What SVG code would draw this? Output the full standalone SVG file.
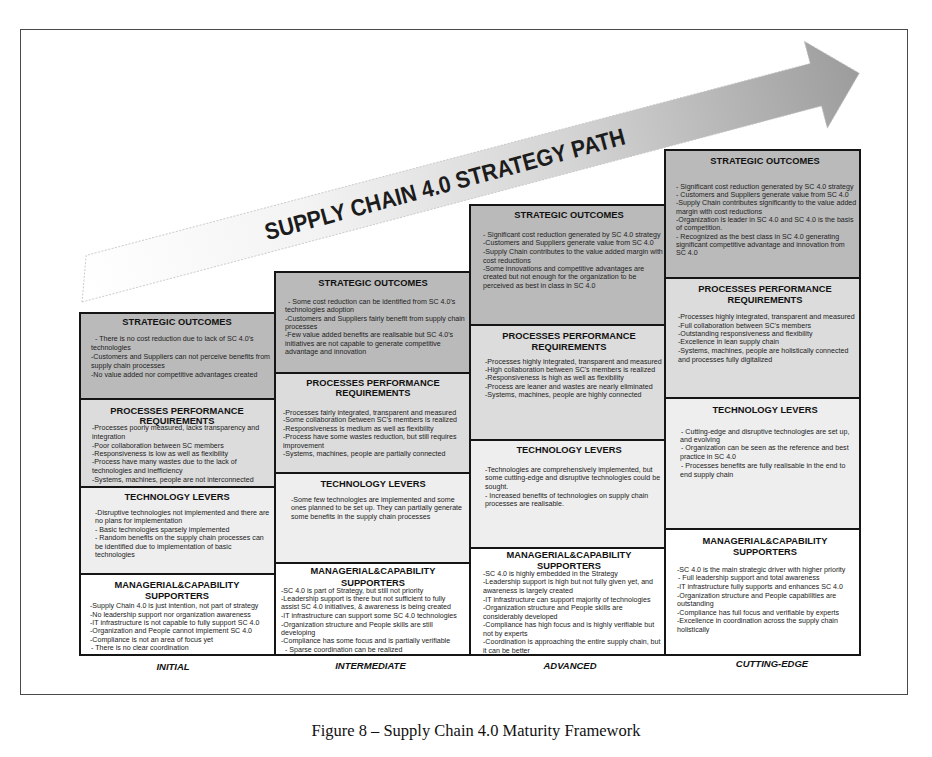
<svg xmlns="http://www.w3.org/2000/svg" width="932" height="757" viewBox="0 0 932 757">
  <style>
    .frame { fill: #ffffff; stroke: #4a4a4a; stroke-width: 1; }
    .box { stroke: #151515; stroke-width: 2; }
    .so { fill: #bababa; }
    .pp { fill: #dcdcdc; }
    .tl { fill: #eeeeee; }
    .mc { fill: #ffffff; }
    .h { font-family: "Liberation Sans", Arial, sans-serif; font-weight: bold; font-size: 9.3px; text-anchor: middle; fill: #111111; }
    .b { font-family: "Liberation Sans", Arial, sans-serif; font-size: 7.1px; fill: #222222; }
    .lvl { font-family: "Liberation Sans", Arial, sans-serif; font-weight: bold; font-style: italic; font-size: 9.5px; text-anchor: middle; fill: #111111; }
    .cap { font-family: "Liberation Serif", "Times New Roman", serif; font-size: 16.5px; text-anchor: middle; fill: #111111; }
    .arrow-title { font-family: "Liberation Sans", Arial, sans-serif; font-weight: bold; font-size: 23.5px; text-anchor: middle; fill: #1c1c1c; }
  </style>
  <defs>
    <linearGradient id="arrowFill" gradientUnits="userSpaceOnUse" x1="0" y1="0" x2="810" y2="0">
      <stop offset="0" stop-color="#ffffff"/>
      <stop offset="0.3" stop-color="#f3f3f3"/>
      <stop offset="0.65" stop-color="#d2d2d2"/>
      <stop offset="1" stop-color="#9c9c9c"/>
    </linearGradient>
  </defs>

  <rect width="932" height="757" fill="#ffffff"/>
  <rect class="frame" x="20.5" y="29.5" width="887" height="665"/>

  <!-- strategy path arrow -->
  <g id="connectors">
    <g id="strategy-path" transform="translate(82,302) rotate(-14.85)">
      <path d="M0,0 L765,0 L765,23 L810,-22 L765,-67 L765,-44 L16,-44 Z" fill="url(#arrowFill)" stroke="#c4c4c4" stroke-width="0.8" stroke-dasharray="2 1.5"/>
    </g>
    <text class="arrow-title" transform="translate(447,192) rotate(-15)" textLength="372" lengthAdjust="spacingAndGlyphs">SUPPLY CHAIN 4.0 STRATEGY  PATH</text>
  </g>

  <!-- INITIAL -->
  <g id="initial-strategic">
    <rect class="box so" x="80" y="313" width="195" height="86"/>
    <text class="h" x="177" y="325">STRATEGIC  OUTCOMES</text>
    <text class="b" x="95" y="341">- There is no cost reduction due to lack of SC 4.0's</text>
    <text class="b" x="91" y="350">technologies</text>
    <text class="b" x="91" y="359">-Customers and Suppliers can not perceive benefits from</text>
    <text class="b" x="91" y="367.5">supply chain processes</text>
    <text class="b" x="91" y="376.5">-No value added nor competitive advantages created</text>
  </g>
  <g id="initial-processes">
    <rect class="box pp" x="80" y="399" width="195" height="88"/>
    <text class="h" x="177" y="413.5">PROCESSES PERFORMANCE</text>
    <text class="h" x="177" y="423.5">REQUIREMENTS</text>
    <text class="b" x="92" y="430">-Processes poorly measured, lacks transparency and</text>
    <text class="b" x="92" y="439">integration</text>
    <text class="b" x="92" y="447.5">-Poor collaboration between SC members</text>
    <text class="b" x="92" y="456">-Responsiveness is low as well as flexibility</text>
    <text class="b" x="92" y="464">-Process have many wastes due to the lack of</text>
    <text class="b" x="92" y="472.5">technologies and inefficiency</text>
    <text class="b" x="92" y="481.5">-Systems, machines, people are not interconnected</text>
  </g>
  <g id="initial-technology">
    <rect class="box tl" x="80" y="487" width="195" height="87"/>
    <text class="h" x="177" y="500">TECHNOLOGY LEVERS</text>
    <text class="b" x="95" y="515">-Disruptive technologies not implemented and there are</text>
    <text class="b" x="95" y="523">no plans for implementation</text>
    <text class="b" x="95" y="531.5">- Basic technologies sparsely implemented</text>
    <text class="b" x="95" y="540">- Random benefits on the supply chain processes can</text>
    <text class="b" x="95" y="548.5">be identified due to implementation of basic</text>
    <text class="b" x="95" y="557">technologies</text>
  </g>
  <g id="initial-managerial">
    <rect class="box mc" x="80" y="574" width="195" height="81"/>
    <text class="h" x="177" y="587.5">MANAGERIAL&amp;CAPABILITY</text>
    <text class="h" x="177" y="599">SUPPORTERS</text>
    <text class="b" x="90" y="608">-Supply Chain 4.0 is just intention, not part of strategy</text>
    <text class="b" x="90" y="616.5">-No leadership support nor organization awareness</text>
    <text class="b" x="90" y="625">-IT infrastructure is not capable to fully support SC 4.0</text>
    <text class="b" x="90" y="633">-Organization and People cannot implement SC 4.0</text>
    <text class="b" x="90" y="641.5">-Compliance is not an area of focus yet</text>
    <text class="b" x="91" y="650">- There is no clear coordination</text>
  </g>
  <text class="lvl" x="173" y="670">INITIAL</text>

  <!-- INTERMEDIATE -->
  <g id="intermediate-strategic">
    <rect class="box so" x="275" y="272" width="195" height="101"/>
    <text class="h" x="373" y="285.5">STRATEGIC  OUTCOMES</text>
    <text class="b" x="288" y="304">- Some cost reduction can be identified from SC 4.0's</text>
    <text class="b" x="285" y="312">technologies adoption</text>
    <text class="b" x="285" y="320.5">-Customers and Suppliers fairly benefit from supply chain</text>
    <text class="b" x="285" y="329">processes</text>
    <text class="b" x="285" y="337">-Few value  added benefits are realisable but SC 4.0's</text>
    <text class="b" x="285" y="345.5">initiatives are not capable to generate competitive</text>
    <text class="b" x="285" y="354">advantage and innovation</text>
  </g>
  <g id="intermediate-processes">
    <rect class="box pp" x="275" y="373" width="195" height="100"/>
    <text class="h" x="373" y="385.7">PROCESSES PERFORMANCE</text>
    <text class="h" x="373" y="396.4">REQUIREMENTS</text>
    <text class="b" x="283" y="414.5">-Processes fairly integrated, transparent and measured</text>
    <text class="b" x="283" y="422">-Some collaboration between SC's members is realized</text>
    <text class="b" x="283" y="430.5">-Responsiveness is medium as well as flexibility</text>
    <text class="b" x="283" y="439">-Process have some wastes reduction, but still requires</text>
    <text class="b" x="283" y="448">improvement</text>
    <text class="b" x="283" y="456">-Systems, machines, people are partially connected</text>
  </g>
  <g id="intermediate-technology">
    <rect class="box tl" x="275" y="473" width="195" height="90"/>
    <text class="h" x="373" y="486.7">TECHNOLOGY LEVERS</text>
    <text class="b" x="291" y="502">-Some few technologies are implemented and some</text>
    <text class="b" x="291" y="510">ones planned to be set up. They can partially generate</text>
    <text class="b" x="291" y="519">some benefits in the supply chain processes</text>
  </g>
  <g id="intermediate-managerial">
    <rect class="box mc" x="275" y="563" width="195" height="92"/>
    <text class="h" x="373" y="574.4">MANAGERIAL&amp;CAPABILITY</text>
    <text class="h" x="373" y="585.7">SUPPORTERS</text>
    <text class="b" x="281" y="593">-SC 4.0 is part of Strategy, but still not priority</text>
    <text class="b" x="281" y="601">-Leadership support  is there but not sufficient to fully</text>
    <text class="b" x="281" y="609">assist SC 4.0 initiatives, &amp; awareness is being created</text>
    <text class="b" x="281" y="618">-IT infrastructure can support some SC 4.0 technologies</text>
    <text class="b" x="281" y="626.5">-Organization structure and People skills are still</text>
    <text class="b" x="281" y="635">developing</text>
    <text class="b" x="281" y="643">-Compliance has some focus and is partially verifiable</text>
    <text class="b" x="285" y="651.5">- Sparse coordination can be realized</text>
  </g>
  <text class="lvl" x="370.5" y="668.5">INTERMEDIATE</text>

  <!-- ADVANCED -->
  <g id="advanced-strategic">
    <rect class="box so" x="470" y="205" width="195" height="120"/>
    <text class="h" x="569" y="218.4">STRATEGIC  OUTCOMES</text>
    <text class="b" x="483" y="237">- Significant cost reduction generated by SC 4.0 strategy</text>
    <text class="b" x="483" y="245">-Customers and Suppliers generate value from SC 4.0</text>
    <text class="b" x="483" y="253.5">-Supply Chain contributes to the value added margin with</text>
    <text class="b" x="483" y="262.5">cost reductions</text>
    <text class="b" x="483" y="271">-Some innovations and competitive advantages are</text>
    <text class="b" x="483" y="279">created  but not enough for the organization to be</text>
    <text class="b" x="483" y="287.5">perceived as best in class in SC 4.0</text>
  </g>
  <g id="advanced-processes">
    <rect class="box pp" x="470" y="325" width="195" height="115"/>
    <text class="h" x="569" y="339">PROCESSES PERFORMANCE</text>
    <text class="h" x="569" y="350">REQUIREMENTS</text>
    <text class="b" x="485" y="363.5">-Processes highly integrated, transparent and measured</text>
    <text class="b" x="485" y="372">-High collaboration between SC's members is realized</text>
    <text class="b" x="485" y="380">-Responsiveness is high as well as flexibility</text>
    <text class="b" x="485" y="388.5">-Process are leaner and wastes are nearly eliminated</text>
    <text class="b" x="485" y="397">-Systems, machines, people are highly connected</text>
  </g>
  <g id="advanced-technology">
    <rect class="box tl" x="470" y="440" width="195" height="108"/>
    <text class="h" x="569" y="453.4">TECHNOLOGY LEVERS</text>
    <text class="b" x="485" y="471.5">-Technologies are comprehensively implemented, but</text>
    <text class="b" x="485" y="480">some cutting-edge and disruptive technologies could be</text>
    <text class="b" x="485" y="488.5">sought.</text>
    <text class="b" x="485" y="497.5">- Increased benefits of technologies on supply chain</text>
    <text class="b" x="485" y="506">processes are realisable.</text>
  </g>
  <g id="advanced-managerial">
    <rect class="box mc" x="470" y="548" width="195" height="107"/>
    <text class="h" x="569" y="557.7">MANAGERIAL&amp;CAPABILITY</text>
    <text class="h" x="569" y="569">SUPPORTERS</text>
    <text class="b" x="483" y="576">-SC 4.0 is highly embedded in the Strategy</text>
    <text class="b" x="483" y="584">-Leadership support is high but not fully given yet, and</text>
    <text class="b" x="483" y="592.5">awareness is largely created</text>
    <text class="b" x="483" y="601.5">-IT infrastructure can support majority of technologies</text>
    <text class="b" x="483" y="610">-Organization structure and People  skills are</text>
    <text class="b" x="483" y="618.5">considerably developed</text>
    <text class="b" x="483" y="627">-Compliance has high focus and is highly verifiable but</text>
    <text class="b" x="483" y="636">not by experts</text>
    <text class="b" x="483" y="644">-Coordination is approaching the entire supply chain, but</text>
    <text class="b" x="483" y="653">it can be better</text>
  </g>
  <text class="lvl" x="570" y="668.5">ADVANCED</text>

  <!-- CUTTING-EDGE -->
  <g id="cutting-edge-strategic">
    <rect class="box so" x="665" y="150" width="195" height="128"/>
    <text class="h" x="765" y="164">STRATEGIC  OUTCOMES</text>
    <text class="b" x="676" y="188.5">- Significant cost reduction generated by SC 4.0 strategy</text>
    <text class="b" x="676" y="197">- Customers and Suppliers generate value from SC 4.0</text>
    <text class="b" x="676" y="205">-Supply Chain contributes significantly to the value added</text>
    <text class="b" x="676" y="213.5">margin with cost reductions</text>
    <text class="b" x="676" y="221.5">-Organization is leader in SC 4.0 and SC 4.0 is the basis</text>
    <text class="b" x="676" y="230">of competition.</text>
    <text class="b" x="676" y="238.5">- Recognized as the best class in SC 4.0 generating</text>
    <text class="b" x="676" y="247">significant competitive advantage and innovation from</text>
    <text class="b" x="676" y="255">SC 4.0</text>
  </g>
  <g id="cutting-edge-processes">
    <rect class="box pp" x="665" y="278" width="195" height="120"/>
    <text class="h" x="765" y="292.4">PROCESSES PERFORMANCE</text>
    <text class="h" x="765" y="303.4">REQUIREMENTS</text>
    <text class="b" x="678" y="319">-Processes highly integrated, transparent and measured</text>
    <text class="b" x="678" y="327.5">-Full collaboration between SC's members</text>
    <text class="b" x="678" y="336">-Outstanding responsiveness and flexibility</text>
    <text class="b" x="678" y="344">-Excellence in lean supply chain</text>
    <text class="b" x="678" y="353">-Systems, machines, people are holistically connected</text>
    <text class="b" x="678" y="362">and processes fully digitalized</text>
  </g>
  <g id="cutting-edge-technology">
    <rect class="box tl" x="665" y="398" width="195" height="131"/>
    <text class="h" x="765" y="413.4">TECHNOLOGY LEVERS</text>
    <text class="b" x="681" y="434">- Cutting-edge and disruptive technologies are set up,</text>
    <text class="b" x="680" y="441.5">and evolving</text>
    <text class="b" x="681" y="450">- Organization can be seen as the reference and best</text>
    <text class="b" x="680" y="458.5">practice in SC 4.0</text>
    <text class="b" x="681" y="467.5">- Processes benefits are fully realisable in the end to</text>
    <text class="b" x="680" y="476.5">end supply chain</text>
  </g>
  <g id="cutting-edge-managerial">
    <rect class="box mc" x="665" y="529" width="195" height="126"/>
    <text class="h" x="765" y="544">MANAGERIAL&amp;CAPABILITY</text>
    <text class="h" x="765" y="555">SUPPORTERS</text>
    <text class="b" x="677" y="571.5">-SC 4.0 is the main strategic driver with higher priority</text>
    <text class="b" x="678" y="580">- Full leadership support  and total awareness</text>
    <text class="b" x="677" y="588.5">-IT infrastructure fully supports and enhances SC 4.0</text>
    <text class="b" x="677" y="597.5">-Organization structure and People capabilities are</text>
    <text class="b" x="677" y="605.5">outstanding</text>
    <text class="b" x="677" y="614.5">-Compliance has full focus and verifiable by experts</text>
    <text class="b" x="677" y="623">-Excellence in coordination across the supply chain</text>
    <text class="b" x="677" y="632">holistically</text>
  </g>
  <text class="lvl" x="772" y="667">CUTTING-EDGE</text>

  <text class="cap" x="476" y="736">Figure 8 – Supply Chain 4.0 Maturity Framework</text>
</svg>
